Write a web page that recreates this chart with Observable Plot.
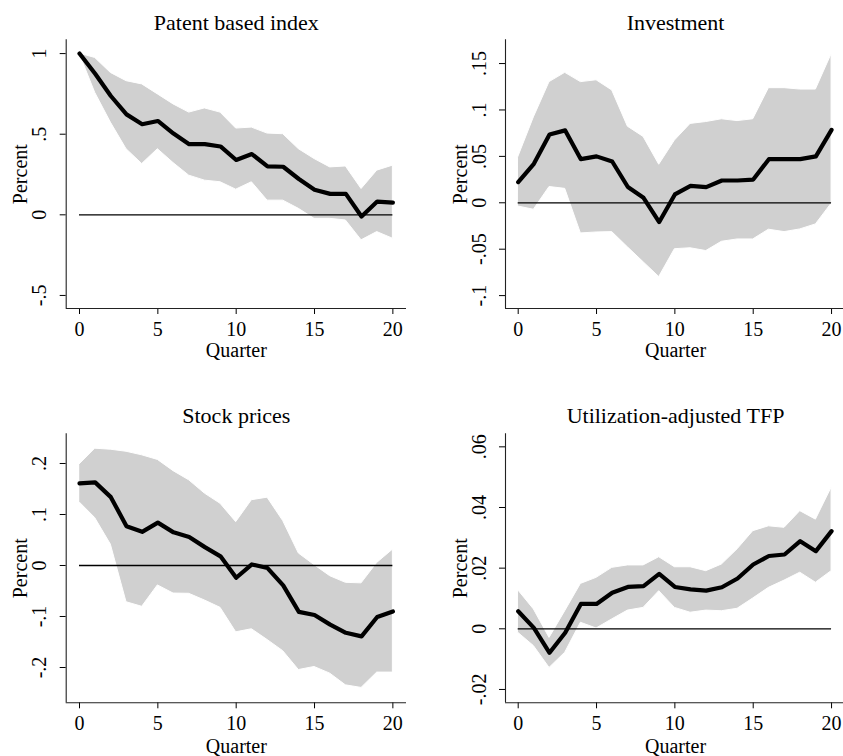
<!DOCTYPE html>
<html><head><meta charset="utf-8">
<script src="https://cdn.jsdelivr.net/npm/d3@7"></script>
<script src="https://cdn.jsdelivr.net/npm/@observablehq/plot@0.6"></script>
<style>
html,body{margin:0;padding:0;background:#fff;}
#chart{position:relative;width:843px;height:756px;overflow:hidden;background:#fff;}
#chart svg{position:absolute;}
</style></head><body><div id="chart"></div>
<script>
const quarters = [0,1,2,3,4,5,6,7,8,9,10,11,12,13,14,15,16,17,18,19,20];
const xTicks = [0,5,10,15,20];

// Patent based index
const patentIrf   = [1.0,0.875,0.737,0.623,0.562,0.582,0.504,0.438,0.438,0.424,0.340,0.377,0.300,0.298,0.222,0.156,0.130,0.130,-0.010,0.082,0.076];
const patentUpper = [1.0,0.973,0.880,0.829,0.809,0.747,0.685,0.634,0.660,0.634,0.535,0.541,0.504,0.500,0.407,0.346,0.294,0.300,0.160,0.274,0.305];
const patentLower = [1.0,0.757,0.572,0.407,0.315,0.407,0.321,0.243,0.212,0.202,0.156,0.202,0.088,0.088,0.037,-0.025,-0.025,-0.035,-0.158,-0.107,-0.148];
const patentTicks = [-0.5,0,0.5,1];
const patentTickLabels = ["-.5","0",".5","1"];

// Investment
const invIrf   = [0.0223,0.042,0.0736,0.078,0.047,0.050,0.0445,0.017,0.0054,-0.0208,0.009,0.0183,0.0169,0.024,0.024,0.025,0.047,0.047,0.047,0.050,0.0786];
const invUpper = [0.049,0.092,0.130,0.140,0.130,0.132,0.121,0.082,0.071,0.041,0.067,0.085,0.087,0.090,0.088,0.090,0.1235,0.1235,0.122,0.122,0.160];
const invLower = [-0.004,-0.0075,0.017,0.015,-0.033,-0.032,-0.0316,-0.048,-0.064,-0.080,-0.050,-0.049,-0.052,-0.042,-0.0395,-0.0395,-0.029,-0.0316,-0.0287,-0.0233,-0.001];
const invTicks = [-0.1,-0.05,0,0.05,0.1,0.15];
const invTickLabels = ["-.1","-.05","0",".05",".1",".15"];

// Stock prices
const stockIrf   = [0.161,0.163,0.134,0.077,0.066,0.084,0.065,0.056,0.036,0.018,-0.024,0.002,-0.005,-0.039,-0.091,-0.097,-0.116,-0.132,-0.139,-0.101,-0.090];
const stockUpper = [0.198,0.229,0.227,0.223,0.216,0.207,0.185,0.167,0.141,0.121,0.085,0.128,0.133,0.087,0.0235,0.0007,-0.021,-0.034,-0.035,0.005,0.031];
const stockLower = [0.124,0.093,0.041,-0.072,-0.081,-0.039,-0.055,-0.0555,-0.0686,-0.083,-0.131,-0.125,-0.146,-0.168,-0.205,-0.199,-0.212,-0.235,-0.240,-0.210,-0.210];
const stockTicks = [-0.2,-0.1,0,0.1,0.2];
const stockTickLabels = ["-.2","-.1","0",".1",".2"];

// Utilization-adjusted TFP
const tfpIrf   = [0.0058,0.0003,-0.0079,-0.0013,0.0082,0.0082,0.0119,0.0138,0.0141,0.0181,0.0138,0.0130,0.0126,0.0137,0.0166,0.0212,0.0240,0.0245,0.0289,0.0256,0.0322];
const tfpUpper = [0.0127,0.0064,-0.0030,0.0058,0.0148,0.0168,0.0201,0.0209,0.0209,0.0236,0.0203,0.0203,0.0190,0.0212,0.0262,0.0322,0.0338,0.0333,0.0388,0.0360,0.0465];
const tfpLower = [-0.0013,-0.0057,-0.0129,-0.0079,0.0020,0.0001,0.0031,0.0060,0.0069,0.0124,0.0069,0.0053,0.0060,0.0058,0.0066,0.0100,0.0135,0.0159,0.0185,0.0152,0.0190];
const tfpTicks = [-0.02,0,0.02,0.04,0.06];
const tfpTickLabels = ["-.02","0",".02",".04",".06"];

const titles = ["Patent based index","Investment","Stock prices","Utilization-adjusted TFP"];

const FONT = "'Liberation Serif', 'Times New Roman', Times, serif";

function panel(cfg) {
  const rows = quarters.map((q, i) => ({q, irf: cfg.irf[i], lo: cfg.lo[i], hi: cfg.hi[i]}));
  const svg = Plot.plot({
    width: cfg.w, height: cfg.h,
    marginLeft: cfg.ml, marginRight: cfg.mr, marginTop: cfg.mt, marginBottom: cfg.mb,
    style: {fontFamily: FONT, fontSize: "20px", color: "#000", background: "transparent", overflow: "visible"},
    x: {domain: cfg.xDomain, ticks: xTicks, tickSize: 6, tickPadding: cfg.xtp,
        label: "Quarter", labelAnchor: "center", labelOffset: cfg.xlo, labelArrow: "none"},
    y: {domain: cfg.yDomain, ticks: cfg.yTicks, tickFormat: (d) => cfg.yLabels[cfg.yTicks.indexOf(d)],
        tickRotate: -90, tickSize: 6, tickPadding: 14,
        label: "Percent", labelAnchor: "center", labelOffset: 53.2, labelArrow: "none"},
    marks: [
      Plot.areaY(rows, {x: "q", y1: "lo", y2: "hi", fill: "#d0d0d0", stroke: "#ffffff", strokeWidth: 1}),
      Plot.ruleY([0], {x1: 0, x2: 20, stroke: "#000", strokeWidth: 1.3}),
      Plot.lineY(rows, {x: "q", y: "irf", stroke: "#000", strokeWidth: 4.2}),
      Plot.ruleX([cfg.xDomain[0]], {stroke: "#222", strokeWidth: 1.1}),
      Plot.ruleY([cfg.yDomain[0]], {stroke: "#222", strokeWidth: 1.1}),
      Plot.text([cfg.title], {frameAnchor: "top", dy: cfg.titleDy, lineAnchor: "bottom", fontSize: 22, fill: "#000"})
    ]
  });
  svg.style.left = cfg.left + "px";
  svg.style.top = cfg.top + "px";
  document.getElementById("chart").appendChild(svg);
}

panel({title: titles[0], irf: patentIrf, lo: patentLower, hi: patentUpper,
  yTicks: patentTicks, yLabels: patentTickLabels, yDomain: [-0.581, 1.0855], xDomain: [-0.849, 20.87],
  left: 0, top: 0, w: 421, h: 378, ml: 65.7, mr: 15, mt: 39.3, mb: 70, titleDy: -10, xlo: 48.7, xtp: 7.5});
panel({title: titles[1], irf: invIrf, lo: invLower, hi: invUpper,
  yTicks: invTicks, yLabels: invTickLabels, yDomain: [-0.1139, 0.1756], xDomain: [-0.81, 20.89],
  left: 421, top: 0, w: 425, h: 378, ml: 84, mr: 1, mt: 39.3, mb: 70, titleDy: -10, xlo: 48.7, xtp: 7.5});
panel({title: titles[2], irf: stockIrf, lo: stockLower, hi: stockUpper,
  yTicks: stockTicks, yLabels: stockTickLabels, yDomain: [-0.2692, 0.2582], xDomain: [-0.849, 20.87],
  left: 0, top: 373.5, w: 421, h: 382.5, ml: 65.7, mr: 15, mt: 59.3, mb: 54.2, titleDy: -10.8, xlo: 49.8, xtp: 7});
panel({title: titles[3], irf: tfpIrf, lo: tfpLower, hi: tfpUpper,
  yTicks: tfpTicks, yLabels: tfpTickLabels, yDomain: [-0.0244, 0.0643], xDomain: [-0.81, 20.89],
  left: 421, top: 373.5, w: 425, h: 382.5, ml: 84, mr: 1, mt: 59.3, mb: 54.2, titleDy: -10.8, xlo: 49.8, xtp: 7});
</script>
</body></html>
